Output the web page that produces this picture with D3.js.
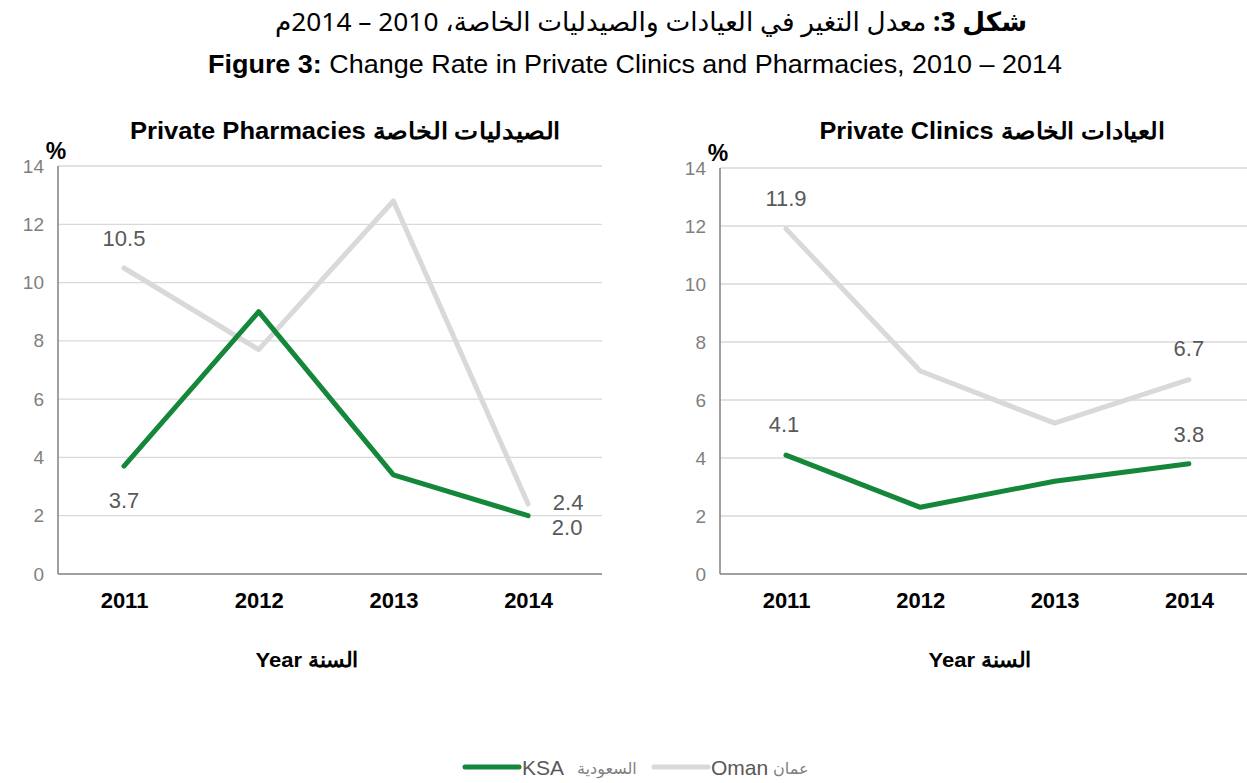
<!DOCTYPE html>
<html><head><meta charset="utf-8">
<script src="https://cdn.jsdelivr.net/npm/d3@7"></script>
<style>body{margin:0;background:#fff;} svg{display:block;}</style>
</head><body>
<svg id="c" width="1247" height="783"></svg>
<script>
const years = ["2011","2012","2013","2014"];
const yTicks = [0,2,4,6,8,10,12,14];
const pharmKSA = [3.7, 9.0, 3.4, 2.0];
const pharmOman = [10.5, 7.7, 12.8, 2.4];
const clinicKSA = [4.1, 2.3, 3.2, 3.8];
const clinicOman = [11.9, 7.0, 5.2, 6.7];
const green = "#15873a", gray = "#d9d9d9";

const svg = d3.select("#c");
const font = "Liberation Sans, Arial, sans-serif";

// Titles
const t1 = svg.append("text").attr("x", 651).attr("y", 31).attr("text-anchor","middle")
  .attr("direction","rtl")
  .style("font-family","Noto Sans, DejaVu Sans, sans-serif").style("font-size","26.3px").attr("fill","#000");
t1.append("tspan").attr("font-weight","bold").text("شكل 3:");
t1.append("tspan").text(" معدل التغير في العيادات والصيدليات الخاصة، 2010 – 2014م");
const t2 = svg.append("text").attr("x", 635).attr("y", 73).attr("text-anchor","middle")
  .attr("textLength",854).attr("lengthAdjust","spacingAndGlyphs")
  .style("font-family",font).style("font-size","25px").attr("fill","#000");
t2.append("tspan").attr("font-weight","bold").text("Figure 3:");
t2.append("tspan").text(" Change Rate in Private Clinics and Pharmacies, 2010 – 2014");

function panel(cfg){
  const g = svg.append("g");
  const x = d3.scalePoint().domain(years).range([cfg.x0, cfg.x0 + cfg.step*3]).padding(0);
  const y = d3.scaleLinear().domain([0,14]).range([574, cfg.yTop]);
  g.selectAll(".grid").data(yTicks.filter(d=>d>0)).join("line")
    .attr("x1", cfg.axisX).attr("x2", cfg.gridEnd).attr("y1", d=>y(d)).attr("y2", d=>y(d))
    .attr("stroke", "#d9d9d9").attr("stroke-width", 1.3);
  const ya = d3.axisLeft(y).tickValues(yTicks).tickSize(0).tickPadding(14);
  const yg = g.append("g").attr("transform", `translate(${cfg.axisX},0)`).call(ya);
  yg.select(".domain").remove();
  yg.selectAll("text").style("font-family",font).style("font-size","19px").attr("fill","#7f7f7f");
  g.append("line").attr("x1",cfg.axisX).attr("x2",cfg.axisX).attr("y1",y(14)).attr("y2",y(0))
    .attr("stroke","#808080").attr("stroke-width",1.5);
  g.append("line").attr("x1",cfg.axisX).attr("x2",cfg.gridEnd).attr("y1",y(0)).attr("y2",y(0))
    .attr("stroke","#808080").attr("stroke-width",1.5);
  const xa = d3.axisBottom(x).tickSize(0).tickPadding(18);
  const xg = g.append("g").attr("transform","translate(0,574)").call(xa);
  xg.select(".domain").remove();
  xg.selectAll("text").style("font-family",font).style("font-size","22px").style("font-weight","bold").attr("fill","#000");
  const line = d3.line().x((d,i)=>x(years[i])).y(d=>y(d));
  g.append("path").datum(cfg.oman).attr("d", line).attr("fill","none").attr("stroke",gray)
    .attr("stroke-width",5).attr("stroke-linejoin","round").attr("stroke-linecap","round");
  g.append("path").datum(cfg.ksa).attr("d", line).attr("fill","none").attr("stroke",green)
    .attr("stroke-width",5).attr("stroke-linejoin","round").attr("stroke-linecap","round");
  cfg.labels.forEach(l=>{
    const v = l.s==="ksa" ? cfg.ksa[l.i] : cfg.oman[l.i];
    g.append("text").attr("x", x(years[l.i]) + l.dx).attr("y", y(v) + l.dy)
      .attr("text-anchor","middle").style("font-family",font).style("font-size","22px")
      .attr("fill","#595959").text(v.toFixed(1));
  });
  g.append("text").attr("x", cfg.axisX - 2).attr("y", cfg.yTop - 7).attr("text-anchor","middle")
    .style("font-family",font).style("font-size","23px").style("font-weight","bold").text("%");
  g.append("text").attr("x", cfg.titleX).attr("y", 139).attr("text-anchor","middle")
    .attr("textLength",cfg.titleW).attr("lengthAdjust","spacingAndGlyphs")
    .style("font-family",font).style("font-size","23px").style("font-weight","bold").attr("fill","#000")
    .text(cfg.title);
  g.append("text").attr("x", cfg.yearX).attr("y", 667).attr("text-anchor","middle")
    .attr("textLength",103).attr("lengthAdjust","spacingAndGlyphs")
    .style("font-family",font).style("font-size","21px").style("font-weight","bold").text("Year السنة");
}

panel({x0:124, step:134.7, axisX:58, gridEnd:602, yTop:166, ksa:pharmKSA, oman:pharmOman,
  titleX:345, titleW:430, yearX:307, title:"Private Pharmacies الصيدليات الخاصة",
  labels:[{s:"oman",i:0,dx:0,dy:-22},{s:"ksa",i:0,dx:0,dy:42},{s:"oman",i:3,dx:40,dy:6},{s:"ksa",i:3,dx:39,dy:19}]});
panel({x0:786, step:134.3, axisX:720, gridEnd:1247, yTop:168, ksa:clinicKSA, oman:clinicOman,
  titleX:992, titleW:345, yearX:980, title:"Private Clinics العيادات الخاصة",
  labels:[{s:"oman",i:0,dx:0,dy:-23},{s:"ksa",i:0,dx:-2,dy:-23},{s:"oman",i:3,dx:0,dy:-24},{s:"ksa",i:3,dx:0,dy:-22}]});

// legend
const lg = svg.append("g");
const items = [{c:green, t:"KSA", a:"السعودية", x:465, ax:577},{c:gray, t:"Oman", a:"عمان", x:654, ax:773}];
items.forEach(it=>{
  lg.append("line").attr("x1",it.x).attr("x2",it.x+54).attr("y1",767).attr("y2",767)
    .attr("stroke",it.c).attr("stroke-width",5).attr("stroke-linecap","round");
  lg.append("text").attr("x",it.x+57).attr("y",775).style("font-family",font).style("font-size","21px")
    .attr("fill","#595959").text(it.t);
  lg.append("text").attr("x",it.ax).attr("y",774).style("font-family","DejaVu Sans, sans-serif").style("font-size","16px")
    .attr("fill","#7f7f7f").text(it.a);
});
</script>
</body></html>
